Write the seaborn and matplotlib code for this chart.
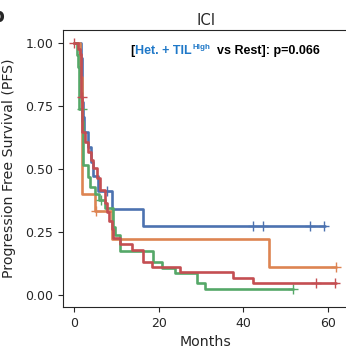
import numpy as np
import pandas as pd
import matplotlib
matplotlib.use("Agg")
import matplotlib.pyplot as plt
import seaborn as sns

# ---- data ----
title = "ICI"
xlabel = "Months"
ylabel = "Progression Free Survival (PFS)"
xticks = [0, 20, 40, 60]
yticks = [0.00, 0.25, 0.50, 0.75, 1.00]

blue_t = [0, 1.6, 1.8, 1.9, 2.0, 2.2, 2.4, 3.3, 4.0, 4.5, 5.6, 9.0, 16.3, 59.4]
blue_s = [1.0, 0.941, 0.882, 0.824, 0.765, 0.706, 0.647, 0.588, 0.529, 0.471, 0.412, 0.343, 0.275, 0.275]
blue_cens = [7.7, 42.3, 44.7, 55.8, 59.0]

orange_t = [0, 1.4, 1.9, 5.0, 9.0, 46.1, 62.0]
orange_s = [1.0, 0.867, 0.40, 0.333, 0.222, 0.111, 0.111]
orange_cens = [5.2, 62.0]

green_t = [0, 0.8, 1.0, 1.1, 1.15, 1.2, 2.0, 2.05, 2.1, 2.2, 3.4, 3.8, 5.0, 5.8, 7.3,
           9.3, 9.8, 10.9, 18.7, 20.8, 23.9, 29.1, 30.9, 51.7]
green_s = [1.0, 0.952, 0.905, 0.857, 0.81, 0.738, 0.69, 0.643, 0.595, 0.516, 0.469, 0.43, 0.40, 0.377, 0.345,
           0.27, 0.238, 0.175, 0.131, 0.107, 0.087, 0.048, 0.024, 0.024]
green_cens = [1.9, 6.3, 51.7]

red_t = [0, 0.9, 1.3, 1.6, 1.7, 1.75, 1.85, 1.95, 2.0, 2.6, 3.3, 3.9, 4.6, 5.4, 6.2, 7.3, 7.8,
         8.3, 8.9, 9.2, 10.9, 13.7, 16.3, 18.4, 25.0, 37.6, 42.3, 61.9]
red_s = [1.0, 0.978, 0.955, 0.91, 0.84, 0.786, 0.74, 0.69, 0.648, 0.608, 0.569, 0.536, 0.504, 0.464, 0.417, 0.365, 0.33,
         0.294, 0.26, 0.226, 0.202, 0.179, 0.131, 0.111, 0.091, 0.067, 0.048, 0.048]
red_cens = [0.0, 1.8, 57.2, 61.7]

sns.set_style("ticks")
pal = sns.color_palette("deep")

fig = plt.figure(figsize=(3.46, 3.48), dpi=100)
W, H = 346, 348
ax = fig.add_axes([63 / W, 1 - 307 / H, (349 - 63) / W, (307 - 30) / H])


def surv_at(ts, ss, t):
    idx = np.searchsorted(np.asarray(ts), t, side="right") - 1
    return ss[max(idx, 0)]


curves = [
    (blue_t, blue_s, blue_cens, pal[0]),
    (orange_t, orange_s, orange_cens, pal[1]),
    (green_t, green_s, green_cens, pal[2]),
    (red_t, red_s, red_cens, pal[3]),
]
z = 2
for ts, ss, cens, col in curves:
    df = pd.DataFrame({"t": ts, "s": ss})
    sns.lineplot(data=df, x="t", y="s", drawstyle="steps-post", color=col, lw=1.9,
                 estimator=None, sort=False, ax=ax, zorder=z)
    cdf = pd.DataFrame({"t": cens, "s": [surv_at(ts, ss, c) for c in cens]})
    sns.scatterplot(data=cdf, x="t", y="s", marker="+", color=col, s=55, linewidth=1.0,
                    ax=ax, zorder=z + 0.5)
    z += 1

ax.set_xlim(-2.6, 65.0)
ax.set_ylim(-0.0476, 1.0516)
ax.set_xticks(xticks)
ax.set_yticks(yticks)
ax.set_yticklabels([f"{v:.2f}" for v in yticks])
ax.tick_params(labelsize=9)
ax.set_xlabel(xlabel, fontsize=10.2)
ax.set_ylabel(ylabel, fontsize=10.2)
ax.set_title(title, fontsize=10.6, pad=3.5)
ax.yaxis.set_label_coords(-0.165, 0.5)

# annotation with coloured parts
fp = dict(family="Liberation Sans", weight="bold", fontsize=9.0)
blue_txt = "#1f78c8"
t0 = ax.text(13.3, 0.955, "[", color="black", ha="left", va="baseline", **fp)
t1 = ax.annotate("Het. + TIL", xy=(1, 0), xycoords=t0, ha="left", va="bottom", color=blue_txt, **fp)
t2 = ax.annotate("High", xy=(1.02, 0.55), xycoords=t1, ha="left", va="bottom", color=blue_txt,
                 family="Liberation Sans", weight="bold", fontsize=5.8)
t3 = ax.annotate("  vs Rest]: p=0.066", xy=(1, 0), xycoords=(t2, t1), ha="left", va="bottom",
                 color="black", **fp)

fig.text(4 / W, 1 - 16 / H, "b", ha="right", va="center", fontsize=14, weight="bold")

fig.savefig("out.png", dpi=100)
